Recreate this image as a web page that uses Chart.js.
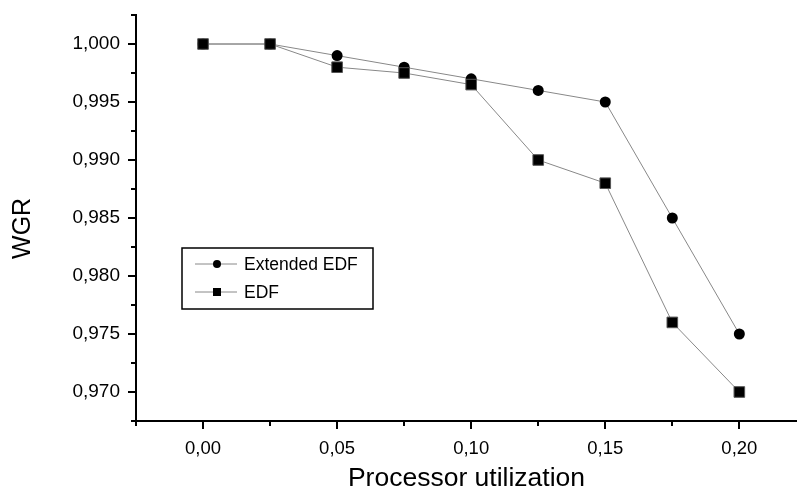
<!DOCTYPE html>
<html>
<head>
<meta charset="utf-8">
<script src="https://cdn.jsdelivr.net/npm/chart.js@4.4.1/dist/chart.umd.min.js"></script>
<style>
html, body { margin: 0; padding: 0; background: #fff; }
canvas { display: block; }
</style>
</head>
<body>
<canvas id="wgrChart" width="797" height="492"></canvas>
<script>
const utilization = [0, 0.025, 0.05, 0.075, 0.10, 0.125, 0.15, 0.175, 0.20];
const extendedEdf = [1.000, 1.000, 0.999, 0.998, 0.997, 0.996, 0.995, 0.985, 0.975];
const edf = [1.000, 1.000, 0.998, 0.9975, 0.9965, 0.990, 0.988, 0.976, 0.970];

const xTicks = [0, 0.05, 0.10, 0.15, 0.20];
const xTickLabels = ['0,00', '0,05', '0,10', '0,15', '0,20'];
const xMinorTicks = [-0.025, 0.025, 0.075, 0.125, 0.175];
const yTicks = [0.970, 0.975, 0.980, 0.985, 0.990, 0.995, 1.000];
const yTickLabels = ['0,970', '0,975', '0,980', '0,985', '0,990', '0,995', '1,000'];
const yMinorTicks = [0.9675, 0.9725, 0.9775, 0.9825, 0.9875, 0.9925, 0.9975, 1.0025];

const FONT = "'Liberation Sans', Arial, sans-serif";

// short outward ticks between the labelled ones
const minorTicks = {
    id: 'minorTicks',
    afterDraw(chart) {
        const ctx = chart.ctx;
        const xs = chart.scales.x, ys = chart.scales.y;
        ctx.save();
        ctx.strokeStyle = '#000';
        ctx.lineWidth = 2;
        ctx.beginPath();
        xMinorTicks.forEach(v => {
            const px = Math.round(xs.getPixelForValue(v));
            ctx.moveTo(px, xs.top);
            ctx.lineTo(px, xs.top + 5);
        });
        yMinorTicks.forEach(v => {
            const py = Math.round(ys.getPixelForValue(v));
            ctx.moveTo(ys.right, py);
            ctx.lineTo(ys.right - 5, py);
        });
        ctx.stroke();
        ctx.restore();
    }
};

// boxed legend inside the plot, like the original
const boxLegend = {
    id: 'boxLegend',
    afterDraw(chart) {
        const ctx = chart.ctx;
        const bx = 182, by = 248, bw = 191, bh = 61;
        ctx.save();
        ctx.strokeStyle = '#000';
        ctx.lineWidth = 1.5;
        ctx.strokeRect(bx, by, bw, bh);
        ctx.font = '17.5px ' + FONT;
        ctx.textBaseline = 'middle';
        ctx.fillStyle = '#000';
        chart.data.datasets.forEach((ds, i) => {
            const y = by + 16 + i * 28;
            ctx.strokeStyle = '#888';
            ctx.lineWidth = 1;
            ctx.beginPath();
            ctx.moveTo(bx + 13, y);
            ctx.lineTo(bx + 55, y);
            ctx.stroke();
            ctx.fillStyle = '#000';
            if (ds.pointStyle === 'rect') {
                ctx.fillRect(bx + 31, y - 4, 8, 8);
            } else {
                ctx.beginPath();
                ctx.arc(bx + 35, y, 4, 0, Math.PI * 2);
                ctx.fill();
            }
            ctx.fillText(ds.label, bx + 62, y + 1);
        });
        ctx.restore();
    }
};

const ctx = document.getElementById('wgrChart');
const wgrChart = new Chart(ctx, {
    type: 'line',
    data: {
        datasets: [{
            label: 'Extended EDF',
            data: utilization.map((u, i) => ({ x: u, y: extendedEdf[i] })),
            borderColor: '#888',
            borderWidth: 1,
            pointStyle: 'circle',
            pointRadius: 5.5,
            pointBackgroundColor: '#000',
            pointBorderColor: '#000',
            pointBorderWidth: 0,
            order: 1
        }, {
            label: 'EDF',
            data: utilization.map((u, i) => ({ x: u, y: edf[i] })),
            borderColor: '#888',
            borderWidth: 1,
            pointStyle: 'rect',
            pointRadius: 7.5,
            pointBackgroundColor: '#000',
            pointBorderColor: '#555',
            pointBorderWidth: 1,
            order: 0
        }]
    },
    options: {
        responsive: false,
        animation: false,
        layout: { autoPadding: false, padding: { top: 15, right: 0, left: 0, bottom: 0 } },
        plugins: {
            legend: { display: false },
            tooltip: { enabled: false }
        },
        scales: {
            x: {
                type: 'linear',
                min: -0.025,
                max: 0.2215,
                afterBuildTicks: s => { s.ticks = xTicks.map(v => ({ value: v })); },
                afterFit: s => { s.height = 71; s.paddingLeft = 0; s.paddingRight = 0; },
                border: { display: true, color: '#000', width: 2 },
                grid: { drawOnChartArea: false, drawTicks: true, tickLength: 8, lineWidth: 2, color: '#000' },
                ticks: {
                    color: '#000',
                    padding: 9,
                    maxRotation: 0,
                    font: { family: FONT, size: 18.5 },
                    callback: (v, i) => xTickLabels[i]
                },
                title: {
                    display: true,
                    text: 'Processor utilization',
                    color: '#000',
                    font: { family: FONT, size: 26.5, lineHeight: 1 },
                    padding: { top: 0, bottom: 0 }
                }
            },
            y: {
                min: 0.9675,
                max: 1.0025,
                afterBuildTicks: s => { s.ticks = yTicks.map(v => ({ value: v })); },
                afterFit: s => { s.width = 136; s.paddingTop = 0; s.paddingBottom = 0; },
                border: { display: true, color: '#000', width: 2 },
                grid: { drawOnChartArea: false, drawTicks: true, tickLength: 8, lineWidth: 2, color: '#000' },
                ticks: {
                    color: '#000',
                    padding: 8,
                    font: { family: FONT, size: 19 },
                    callback: (v, i) => yTickLabels[i]
                },
                title: {
                    display: true,
                    text: 'WGR   ',
                    color: '#000',
                    font: { family: FONT, size: 25, lineHeight: 1 },
                    padding: { top: 11, bottom: 0 }
                }
            }
        }
    },
    plugins: [minorTicks, boxLegend]
});
</script>
</body>
</html>
